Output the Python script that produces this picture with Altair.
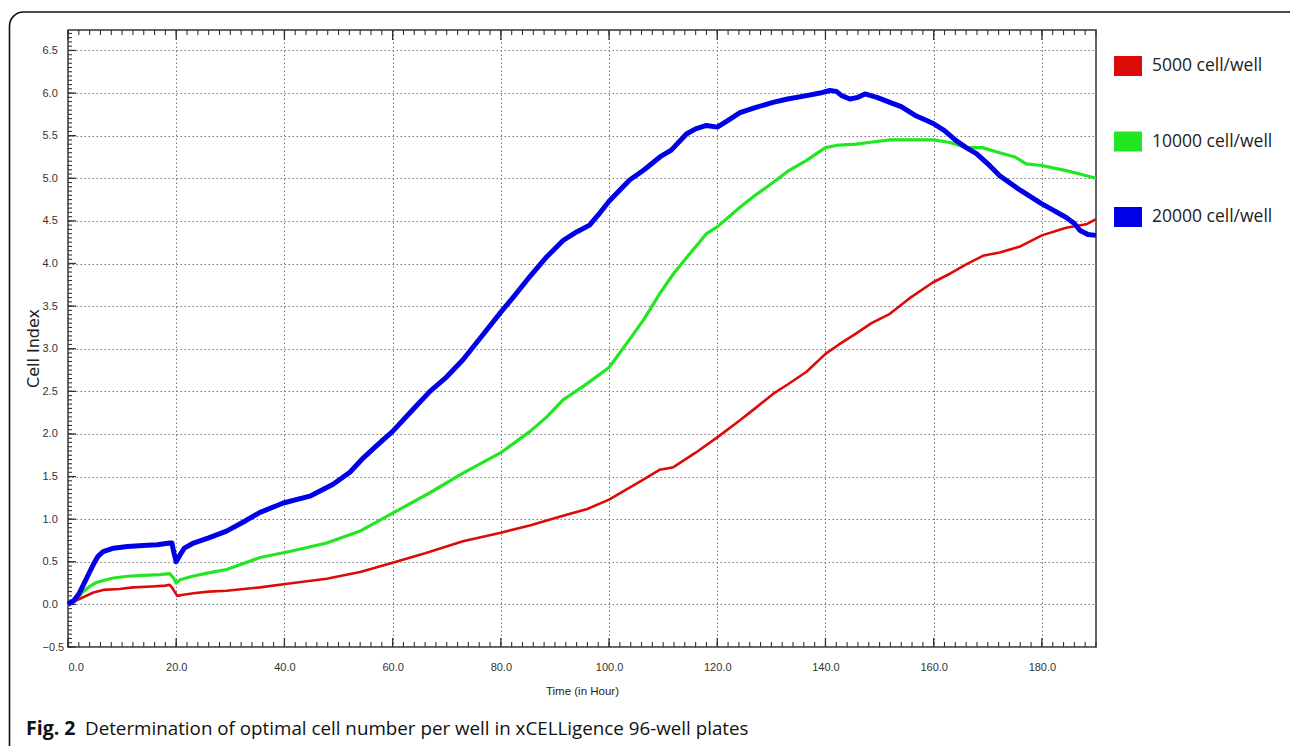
import altair as alt
import pandas as pd
import numpy as np

# ---------------- data ----------------
t_5000 = [0, 1, 2, 3, 4.7, 6.5, 9.5, 12, 15.6, 18, 18.8, 19.2, 19.7, 20.2, 21, 23.2, 26, 29.3,
          35.5, 41.6, 47.8, 54, 60, 66, 73, 80, 85.5, 91.5, 96, 100, 105.7, 109.4, 111.9, 116,
          120, 124.2, 127, 130.3, 133, 136.5, 140, 142.5, 145.7, 148.5, 151.9, 155.5, 159.9,
          163, 166, 169.1, 172.2, 176, 180, 184.5, 188.2, 190]
v_5000 = [0, 0.03, 0.06, 0.09, 0.14, 0.17, 0.18, 0.2, 0.21, 0.22, 0.23, 0.20, 0.15, 0.10, 0.11,
          0.13, 0.15, 0.16, 0.20, 0.25, 0.30, 0.38, 0.49, 0.60, 0.74, 0.84, 0.93, 1.04, 1.12,
          1.23, 1.44, 1.58, 1.61, 1.78, 1.96, 2.16, 2.30, 2.47, 2.58, 2.73, 2.94, 3.05, 3.18,
          3.30, 3.41, 3.59, 3.78, 3.88, 3.99, 4.09, 4.13, 4.20, 4.33, 4.42, 4.46, 4.52]

t_10000 = [0, 1, 2, 3, 4, 5, 6.5, 8.4, 11, 14, 17, 18.8, 19.5, 20.0, 20.7, 23, 26, 29.3, 35.5,
           41.6, 47.8, 54, 60, 66.9, 73, 80, 85.4, 88.5, 91.5, 95.5, 100, 103.8, 106.5, 109.4,
           111.9, 115, 118, 120, 124.2, 127, 130.3, 133, 136.5, 140, 142.5, 145.7, 148, 151.9,
           156, 159.9, 163, 166, 169, 172.2, 175, 177.1, 180, 184.5, 187, 190]
v_10000 = [0, 0.04, 0.10, 0.16, 0.21, 0.25, 0.28, 0.31, 0.33, 0.34, 0.35, 0.36, 0.31, 0.25,
           0.29, 0.33, 0.37, 0.41, 0.55, 0.63, 0.72, 0.86, 1.07, 1.31, 1.54, 1.78, 2.03, 2.20,
           2.40, 2.57, 2.78, 3.11, 3.35, 3.65, 3.88, 4.12, 4.35, 4.43, 4.66, 4.80, 4.95, 5.08,
           5.21, 5.36, 5.39, 5.40, 5.42, 5.45, 5.45, 5.45, 5.42, 5.36, 5.36, 5.30, 5.25, 5.17,
           5.15, 5.09, 5.05, 5.00]

t_20000 = [0, 1, 2, 3, 4, 4.7, 5.5, 6.5, 8.4, 11, 13.9, 16.5, 18.8, 19.2, 19.6, 20.0, 20.7,
           21.5, 23.2, 26, 29.3, 32.5, 35.5, 39.8, 44.7, 49, 52.1, 54.6, 57, 60, 63.5, 66.9,
           70, 73, 76.5, 80, 82.5, 85.4, 88.5, 91.5, 94, 96.4, 98, 100, 103.8, 106.5, 109.4,
           111.5, 114.3, 116, 118, 120, 122, 124.2, 127, 130.3, 133, 136.5, 139, 140.8, 142,
           143, 144.5, 146, 147.3, 149.5, 151.9, 154, 156.8, 158.6, 160, 162, 164.2, 166,
           167.9, 170, 172.2, 176, 180, 182, 184.5, 186, 187, 188.5, 190]
v_20000 = [0, 0.04, 0.12, 0.25, 0.38, 0.47, 0.56, 0.62, 0.66, 0.68, 0.69, 0.70, 0.72, 0.72,
           0.60, 0.50, 0.58, 0.66, 0.72, 0.78, 0.86, 0.97, 1.08, 1.19, 1.27, 1.41, 1.55, 1.72,
           1.86, 2.03, 2.27, 2.50, 2.67, 2.87, 3.15, 3.43, 3.62, 3.85, 4.08, 4.27, 4.37, 4.45,
           4.57, 4.73, 4.98, 5.10, 5.25, 5.33, 5.52, 5.58, 5.62, 5.60, 5.68, 5.77, 5.83, 5.89,
           5.93, 5.97, 6.00, 6.03, 6.02, 5.97, 5.93, 5.95, 5.99, 5.95, 5.89, 5.84, 5.73, 5.68,
           5.64, 5.56, 5.44, 5.36, 5.29, 5.17, 5.03, 4.86, 4.70, 4.63, 4.54, 4.47, 4.39, 4.34,
           4.33]

series_names = ["5000 cell/well", "10000 cell/well", "20000 cell/well"]
series_colors = ["#dd0a0a", "#22e622", "#0000e8"]
series_widths = [2.6, 3.2, 5.0]

x_major = [0, 20, 40, 60, 80, 100, 120, 140, 160, 180]
y_major = [-0.5, 0.0, 0.5, 1.0, 1.5, 2.0, 2.5, 3.0, 3.5, 4.0, 4.5, 5.0, 5.5, 6.0, 6.5]
x_minor = [float(v) for v in np.arange(0, 191, 2)]
y_minor = [round(-0.5 + 0.05 * i, 2) for i in range(145)]

caption_bold = "Fig. 2"
caption_text = "Determination of optimal cell number per well in xCELLigence 96-well plates"

# ---------------- layout ----------------
W, H = 1028, 617
PAD_L, PAD_T = 68, 30
SANS = "Liberation Sans, Arial, sans-serif"

frames = []
for name, ts, vs in zip(series_names, [t_5000, t_10000, t_20000], [v_5000, v_10000, v_20000]):
    frames.append(pd.DataFrame({"t": ts, "v": vs, "s": name}))
df = pd.concat(frames, ignore_index=True)

xscale = alt.Scale(domain=[0, 190], nice=False, zero=False)
yscale = alt.Scale(domain=[-0.5, 6.74], nice=False, zero=False)

xaxis = alt.Axis(values=x_major, format=".1f", ticks=False, domain=False, grid=True,
                 gridDash=[1.5, 2.5], gridColor="#777", gridWidth=1,
                 labelFont=SANS, labelFontSize=11, labelColor="#333", labelPadding=14,
                 title="Time (in Hour)", titleFont=SANS, titleFontSize=11.5,
                 titleFontWeight="normal", titleColor="#222", titlePadding=13)
yaxis = alt.Axis(values=y_major, format=".1f", ticks=False, domain=False, grid=True,
                 gridDash=[1.5, 2.5], gridColor="#777", gridWidth=1,
                 labelFont=SANS, labelFontSize=11, labelColor="#333", labelPadding=26,
                 labelAlign="left", labelBaseline="middle",
                 title="Cell Index", titleFont="DejaVu Sans", titleFontSize=16,
                 titleFontWeight="normal", titleColor="#222",
                 titleX=-35, titleY=318, titleBaseline="middle")

X = alt.X("t:Q", scale=xscale, axis=xaxis)
Y = alt.Y("v:Q", scale=yscale, axis=yaxis)

color = alt.Color("s:N", scale=alt.Scale(domain=series_names, range=series_colors),
                  legend=alt.Legend(title=None, orient="none", legendX=1036, legendY=12,
                                    symbolType="M-1,0L1,0", symbolSize=784,
                                    symbolStrokeWidth=20, symbolOpacity=1,
                                    labelFont="Open Sans", labelFontSize=17.5,
                                    labelColor="#222", labelOffset=0,
                                    rowPadding={"expr": "-4.5"},
                                    padding=0, labelLimit=300))

line_layers = []
for name, w in [(series_names[1], series_widths[1]), (series_names[0], series_widths[0]),
                (series_names[2], series_widths[2])]:
    line_layers.append(
        alt.Chart(df).transform_filter(alt.datum.s == name)
        .mark_line(strokeWidth=w, strokeJoin="round")
        .encode(x=X, y=Y, color=color)
    )

xt_minor = pd.DataFrame({"t": x_minor})
xt_major = pd.DataFrame({"t": [float(v) for v in x_major]})
yt_minor = pd.DataFrame({"v": y_minor})
yt_major = pd.DataFrame({"v": y_major})

TICK = "#333"
tick_layers = [
    alt.Chart(xt_minor).mark_rule(color=TICK, strokeWidth=1.1)
    .encode(x=X, y=alt.value(H), y2=alt.value(H - 5)),
    alt.Chart(xt_major).mark_rule(color=TICK, strokeWidth=1.3)
    .encode(x=X, y=alt.value(H), y2=alt.value(H - 9)),
    alt.Chart(xt_minor).mark_rule(color=TICK, strokeWidth=1.1)
    .encode(x=X, y=alt.value(0), y2=alt.value(5)),
    alt.Chart(xt_major).mark_rule(color=TICK, strokeWidth=1.3)
    .encode(x=X, y=alt.value(0), y2=alt.value(10)),
    alt.Chart(yt_minor).mark_rule(color=TICK, strokeWidth=1.1)
    .encode(y=Y, x=alt.value(0), x2=alt.value(4)),
    alt.Chart(yt_major).mark_rule(color=TICK, strokeWidth=1.3)
    .encode(y=Y, x=alt.value(0), x2=alt.value(8)),
]

one = pd.DataFrame({"a": [0]})
border = alt.Chart(one).mark_rect(fill=None, stroke="#111", strokeWidth=1.6,
                                  cornerRadius=14).encode(
    x=alt.value(9.5 - PAD_L), x2=alt.value(1310 - PAD_L),
    y=alt.value(12 - PAD_T), y2=alt.value(770 - PAD_T))

cap1 = alt.Chart(pd.DataFrame({"c": [caption_bold]})).mark_text(
    align="left", baseline="alphabetic", font="Open Sans", fontSize=19.5, fontWeight="bold",
    color="#111").encode(text="c:N", x=alt.value(26 - PAD_L), y=alt.value(735 - PAD_T))
cap2 = alt.Chart(pd.DataFrame({"c": [caption_text]})).mark_text(
    align="left", baseline="alphabetic", font="Open Sans", fontSize=18.8, fontWeight="normal",
    color="#111").encode(text="c:N", x=alt.value(85 - PAD_L), y=alt.value(735 - PAD_T))

chart = alt.layer(*tick_layers, *line_layers, border, cap1, cap2).properties(
    width=W, height=H,
    autosize=alt.AutoSizeParams(type="none"),
    padding={"left": PAD_L, "top": PAD_T, "right": 1290 - PAD_L - W, "bottom": 746 - PAD_T - H},
    background="white",
).configure_view(stroke="#333", strokeWidth=1.5)

chart.save("out.html", embed_options={"renderer": "svg", "actions": False})
